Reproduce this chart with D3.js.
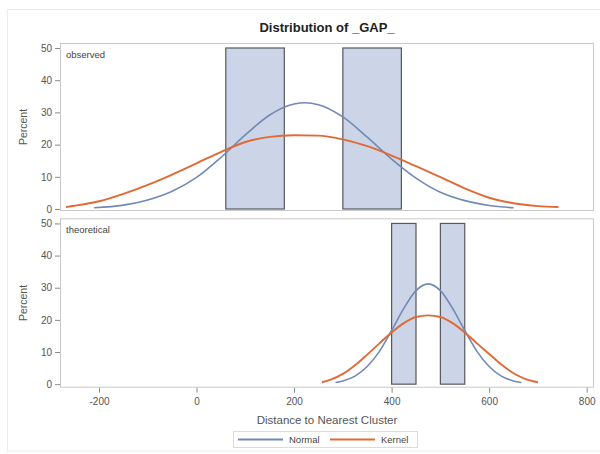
<!DOCTYPE html>
<html>
<head>
<meta charset="utf-8">
<script src="https://cdn.jsdelivr.net/npm/d3@7"></script>
<style>
  html, body { margin: 0; padding: 0; background: #ffffff; }
  svg { display: block; }
  text { font-family: Arial, "Liberation Sans", sans-serif; }
</style>
</head>
<body>
<svg id="chart" width="600" height="454"></svg>
<script>
// Histogram bins (percent of observations) for each panel
const observedBins = [
  { x0: 60, x1: 180, pct: 50 },
  { x0: 300, x1: 420, pct: 50 }
];
const theoreticalBins = [
  { x0: 400, x1: 450, pct: 50 },
  { x0: 500, x1: 550, pct: 50 }
];

// Fitted normal curve, observed panel
const obsNormalX = [-210, -150, -100, -50, 0, 50, 100, 150, 200, 222, 250, 300, 350, 400, 450, 500, 550, 600, 650];
const obsNormalY = [0.4, 1.2, 2.8, 5.5, 9.8, 16.0, 23.0, 29.2, 32.6, 33.0, 32.4, 28.6, 22.3, 15.5, 9.6, 5.2, 2.6, 1.1, 0.4];

// Kernel density curve, observed panel
const obsKernelX = [-268, -250, -200, -150, -100, -50, 0, 50, 100, 150, 200, 250, 300, 350, 400, 450, 500, 550, 600, 650, 700, 742];
const obsKernelY = [0.6, 1.0, 2.4, 4.7, 7.5, 10.7, 14.2, 17.7, 20.8, 22.4, 22.9, 22.8, 21.6, 19.5, 16.6, 13.3, 9.9, 6.4, 3.5, 1.8, 0.9, 0.6];

// Fitted normal curve, theoretical panel
const theoNormalX = [285, 300, 325, 350, 375, 400, 425, 450, 475, 500, 525, 550, 575, 600, 625, 650, 666];
const theoNormalY = [0.5, 1.0, 2.5, 5.5, 10.2, 16.7, 23.6, 29.1, 31.2, 29.1, 23.6, 16.7, 10.2, 5.5, 2.5, 1.0, 0.5];

// Kernel density curve, theoretical panel
const theoKernelX = [257, 275, 300, 325, 350, 375, 400, 425, 450, 475, 500, 525, 550, 575, 600, 625, 650, 675, 700];
const theoKernelY = [0.6, 1.4, 3.2, 5.9, 9.2, 12.7, 16.1, 19.0, 20.9, 21.4, 20.9, 19.0, 16.1, 12.7, 9.4, 6.1, 3.4, 1.6, 0.6];

// Axis ticks
const xTicks = [-200, 0, 200, 400, 600, 800];
const yTicks = [0, 10, 20, 30, 40, 50];

const panelLabels = ["observed", "theoretical"];
const legendItems = ["Normal", "Kernel"];

const colors = {
  bar: "#cbd5e7",
  barStroke: "#55585e",
  normal: "#7189b5",
  kernel: "#e06a36",
  frame: "#c9c9c9",
  tick: "#8a8a8a",
  text: "#555555"
};

const svg = d3.select("#chart");

// outer graph border
svg.append("rect")
  .attr("x", 7.5).attr("y", 9.5).attr("width", 610).attr("height", 441.5)
  .attr("fill", "none").attr("stroke", "#ececec");

const x = d3.scaleLinear().domain([-280, 815]).range([60, 594]);
const plain = d => String(d);

const panels = [
  { y: d3.scaleLinear().domain([-0.62, 51.55]).range([211, 43]),
    bins: observedBins,
    normal: d3.zip(obsNormalX, obsNormalY),
    kernel: d3.zip(obsKernelX, obsKernelY),
    label: panelLabels[0] },
  { y: d3.scaleLinear().domain([-1.1, 51.6]).range([387.7, 218.3]),
    bins: theoreticalBins,
    normal: d3.zip(theoNormalX, theoNormalY),
    kernel: d3.zip(theoKernelX, theoKernelY),
    label: panelLabels[1] }
];

// Title
svg.append("text")
  .attr("x", (x.range()[0] + x.range()[1]) / 2).attr("y", 32)
  .attr("text-anchor", "middle")
  .attr("font-size", 13).attr("font-weight", "bold").attr("fill", "#222")
  .text("Distribution of _GAP_");

panels.forEach((p, i) => {
  const g = svg.append("g");
  const [yb, yt] = p.y.range();

  // histogram bars
  g.selectAll("rect.bar").data(p.bins).enter().append("rect")
    .attr("class", "bar")
    .attr("x", d => x(d.x0))
    .attr("y", d => p.y(d.pct))
    .attr("width", d => x(d.x1) - x(d.x0))
    .attr("height", d => p.y(0) - p.y(d.pct))
    .attr("fill", colors.bar)
    .attr("stroke", colors.barStroke)
    .attr("stroke-width", 1.2);

  const line = d3.line()
    .x(d => x(d[0])).y(d => p.y(d[1]))
    .curve(d3.curveMonotoneX);

  g.append("path").datum(p.normal)
    .attr("d", line).attr("fill", "none")
    .attr("stroke", colors.normal).attr("stroke-width", 1.6);

  g.append("path").datum(p.kernel)
    .attr("d", line).attr("fill", "none")
    .attr("stroke", colors.kernel).attr("stroke-width", 1.9);

  // panel frame
  svg.append("rect")
    .attr("x", x.range()[0] + 0.5).attr("y", yt + 0.5)
    .attr("width", x.range()[1] - x.range()[0] - 1)
    .attr("height", yb - yt - 1)
    .attr("fill", "none").attr("stroke", colors.frame);

  // y axis
  const yAxis = d3.axisLeft(p.y).tickValues(yTicks).tickFormat(plain).tickSize(5).tickPadding(3);
  const ya = svg.append("g").attr("transform", `translate(${x.range()[0]},0)`).call(yAxis);
  ya.select(".domain").remove();
  ya.selectAll(".tick line").attr("stroke", colors.tick);
  ya.selectAll(".tick text")
    .attr("font-size", 10).attr("fill", colors.text)
    .attr("font-family", "Arial, 'Liberation Sans', sans-serif");

  // y axis title
  svg.append("text")
    .attr("transform", `translate(27,${(yb + yt) / 2}) rotate(-90)`)
    .attr("text-anchor", "middle")
    .attr("font-size", 10.5).attr("fill", colors.text)
    .text("Percent");

  // panel label
  svg.append("text")
    .attr("x", x.range()[0] + 6).attr("y", yt + 15)
    .attr("font-size", 9.5).attr("fill", "#444")
    .text(p.label);
});

// x axis under the lower panel
const xAxis = d3.axisBottom(x).tickValues(xTicks).tickFormat(plain).tickSize(5).tickPadding(5);
const xa = svg.append("g").attr("transform", `translate(0,${panels[1].y.range()[0]})`).call(xAxis);
xa.select(".domain").remove();
xa.selectAll(".tick line").attr("stroke", colors.tick);
xa.selectAll(".tick text")
  .attr("font-size", 10).attr("fill", colors.text)
  .attr("font-family", "Arial, 'Liberation Sans', sans-serif");

svg.append("text")
  .attr("x", (x.range()[0] + x.range()[1]) / 2).attr("y", 424)
  .attr("text-anchor", "middle")
  .attr("font-size", 11.5).attr("fill", colors.text)
  .text("Distance to Nearest Cluster");

// legend
const lg = svg.append("g");
lg.append("rect")
  .attr("x", 233.5).attr("y", 431.5).attr("width", 184).attr("height", 16)
  .attr("fill", "none").attr("stroke", "#dcdcdc");
const legendDefs = [
  { label: legendItems[0], color: colors.normal, x: 238 },
  { label: legendItems[1], color: colors.kernel, x: 330 }
];
legendDefs.forEach(d => {
  lg.append("line")
    .attr("x1", d.x).attr("x2", d.x + 45)
    .attr("y1", 439.5).attr("y2", 439.5)
    .attr("stroke", d.color).attr("stroke-width", 1.8);
  lg.append("text")
    .attr("x", d.x + 51).attr("y", 443)
    .attr("font-size", 9.5).attr("fill", "#444")
    .text(d.label);
});
</script>
</body>
</html>
